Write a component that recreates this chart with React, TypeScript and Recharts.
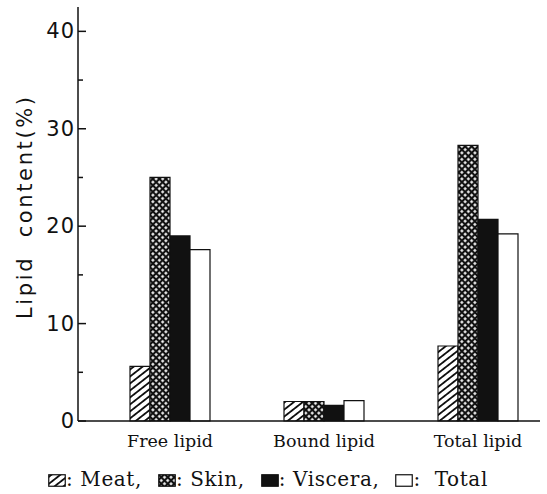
import React from "react";
import { BarChart, Bar, XAxis, YAxis } from "recharts";

// values (%)
const categories = ["Free lipid", "Bound lipid", "Total lipid"];
const meat = [5.6, 2.0, 7.7];
const skin = [25.0, 2.0, 28.3];
const viscera = [19.0, 1.6, 20.7];
const total = [17.6, 2.1, 19.2];
const yTicks = [0, 5, 10, 15, 20, 25, 30, 35, 40];

const data = categories.map((name, i) => ({
  name,
  meat: meat[i],
  skin: skin[i],
  viscera: viscera[i],
  total: total[i],
}));

const INK = "#111";
const SERIF = "'DejaVu Serif', 'Liberation Serif', serif";
const SANS = "'DejaVu Sans', sans-serif";

const YTick = (props: any) => {
  const { x, y, payload } = props;
  const major = payload.value % 10 === 0;
  return (
    <g>
      <line x1={x} x2={x + (major ? 8 : 5)} y1={y} y2={y} stroke={INK} strokeWidth={1.5} />
      {major && (
        <text
          x={x - 3}
          y={y}
          textAnchor="end"
          dominantBaseline="central"
          fontFamily={SANS}
          fontSize={21}
          letterSpacing={1}
          fill={INK}
        >
          {payload.value}
        </text>
      )}
    </g>
  );
};

const YLabel = () => (
  <text
    x={25}
    y={208}
    transform="rotate(-90 25 208)"
    textAnchor="middle"
    dominantBaseline="central"
    fontFamily={SANS}
    fontSize={21}
    fill={INK}
    textLength={222}
    lengthAdjust="spacing"
    style={{ whiteSpace: "pre" }}
  >
    {"Lipid  content(%)"}
  </text>
);

const Swatch = ({ fill }: { fill: string }) => (
  <svg width={18} height={13} style={{ verticalAlign: "-1px" }}>
    <rect x={0.75} y={0.75} width={16.5} height={11.5} fill={fill} stroke={INK} strokeWidth={1.2} />
  </svg>
);

const legendItems = [
  { label: "Meat,", fill: "url(#hatchMeat)" },
  { label: "Skin,", fill: "url(#crossSkin)" },
  { label: "Viscera,", fill: INK },
  { label: "Total", fill: "#fff" },
];

export default function App() {
  return (
    <div style={{ position: "absolute", left: 0, top: 0, width: 547, height: 494, background: "#fff" }}>
      <BarChart
        width={547}
        height={494}
        data={data}
        margin={{ top: 7, right: 7, left: 18, bottom: 40 }}
        barGap={0}
        barSize={20}
      >
        <defs>
          <pattern id="hatchMeat" width={5.5} height={5.5} patternUnits="userSpaceOnUse" patternTransform="rotate(-38)">
            <rect width={5.5} height={5.5} fill="#fff" />
            <line x1={0} y1={2.75} x2={5.5} y2={2.75} stroke={INK} strokeWidth={1.8} />
          </pattern>
          <pattern id="crossSkin" width={4.6} height={4.6} patternUnits="userSpaceOnUse" patternTransform="rotate(45)">
            <rect width={4.6} height={4.6} fill={INK} />
            <rect x={1.1} y={1.1} width={2.4} height={2.4} fill="#fff" />
          </pattern>
        </defs>
        <XAxis
          dataKey="name"
          height={33}
          padding={{ left: 15, right: -15 }}
          axisLine={{ stroke: INK, strokeWidth: 1.5 }}
          tickLine={false}
          tickSize={0}
          tickMargin={14}
          tick={{ fontFamily: SERIF, fontSize: 17.5, fill: INK }}
        />
        <YAxis
          width={60}
          domain={[0, 42.5]}
          ticks={yTicks}
          interval={0}
          axisLine={{ stroke: INK, strokeWidth: 1.5 }}
          tickLine={false}
          tickSize={0}
          tickMargin={0}
          tick={<YTick />}
          label={<YLabel />}
        />
        <Bar dataKey="meat" fill="url(#hatchMeat)" stroke={INK} strokeWidth={1.2} isAnimationActive={false} />
        <Bar dataKey="skin" fill="url(#crossSkin)" stroke={INK} strokeWidth={1.2} isAnimationActive={false} />
        <Bar dataKey="viscera" fill={INK} stroke={INK} strokeWidth={1.2} isAnimationActive={false} />
        <Bar dataKey="total" fill="#fff" stroke={INK} strokeWidth={1.2} isAnimationActive={false} />
      </BarChart>
      <div
        style={{
          position: "absolute",
          left: 48,
          top: 467,
          fontFamily: SERIF,
          fontSize: 20,
          letterSpacing: 0.6,
          color: INK,
          whiteSpace: "pre",
          display: "flex",
          alignItems: "center",
        }}
      >
        {legendItems.map((it, i) => (
          <span key={it.label} style={{ marginRight: i < legendItems.length - 1 ? 16 : 0 }}>
            <Swatch fill={it.fill} />
            {i === 3 ? ":  " : ": "}
            {it.label}
          </span>
        ))}
      </div>
    </div>
  );
}
